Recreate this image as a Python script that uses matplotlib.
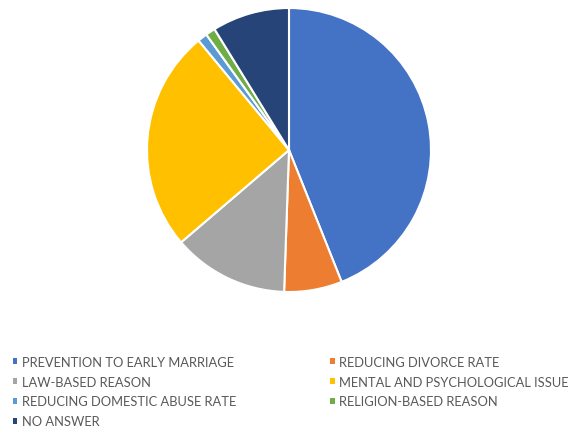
import matplotlib.pyplot as plt

labels = ["PREVENTION TO EARLY MARRIAGE", "REDUCING DIVORCE RATE", "LAW-BASED REASON",
          "MENTAL AND PSYCHOLOGICAL ISSUE", "REDUCING DOMESTIC ABUSE RATE",
          "RELIGION-BASED REASON", "NO ANSWER"]
counts = [40, 6, 12, 23, 1, 1, 8]
colors = ["#4472C4", "#ED7D31", "#A5A5A5", "#FFC000", "#5B9BD5", "#70AD47", "#264478"]

W, H = 573, 427
fig = plt.figure(figsize=(W / 100, H / 100), dpi=100)

# pie centre ~ (289, 151) px, radius ~142 px
cx, cy, r = 289, 151, 142
ax = fig.add_axes([(cx - r) / W, (H - cy - r) / H, 2 * r / W, 2 * r / H])
wedges, _ = ax.pie(counts, colors=colors, startangle=90, counterclock=False,
                   wedgeprops=dict(edgecolor="white", linewidth=1.5))
ax.set_xlim(-1, 1)
ax.set_ylim(-1, 1)
ax.set_aspect("equal")
ax.axis("off")

# legend is filled row-wise in the reference, matplotlib fills column-wise
order = [0, 2, 4, 6, 1, 3, 5]
leg = fig.legend([wedges[i] for i in order], [labels[i] for i in order],
                 loc="upper left", bbox_to_anchor=(13 / W, 1 - 357 / H),
                 ncol=2, frameon=False, borderaxespad=0, borderpad=0,
                 handlelength=0.34, handleheight=0.34, handletextpad=0.33,
                 labelspacing=0.6, columnspacing=7.3,
                 prop={"family": "Lato", "size": 9.3})
for t in leg.get_texts():
    t.set_color("#595959")
for h in leg.legend_handles:
    h.set_edgecolor("none")

fig.savefig("out.png", dpi=100)
